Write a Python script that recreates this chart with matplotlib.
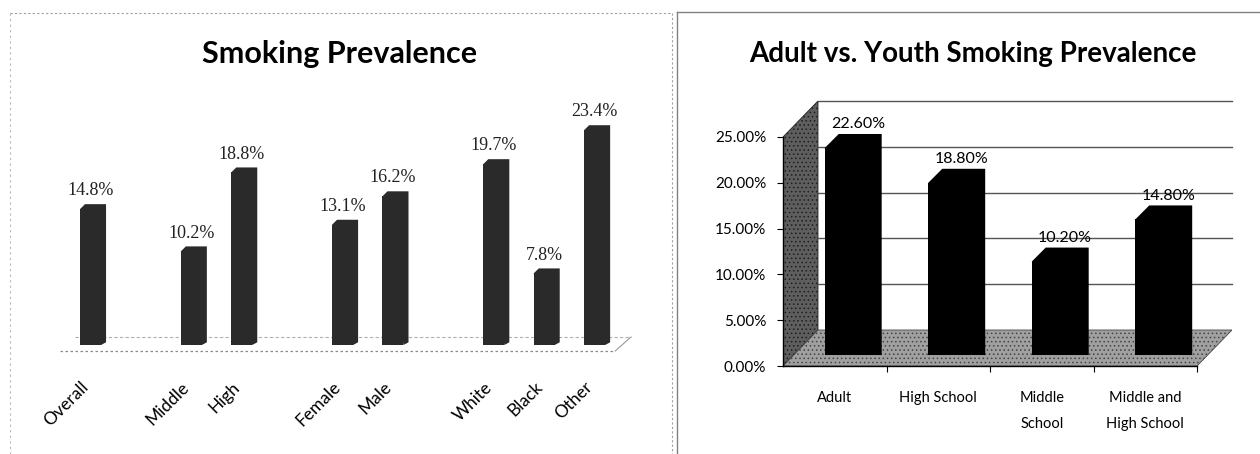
import matplotlib
matplotlib.use("Agg")
import matplotlib.pyplot as plt
from matplotlib.patches import Polygon
from matplotlib.lines import Line2D
from matplotlib.transforms import ScaledTranslation

W, H, DPI = 1260, 454, 100
plt.rcParams["hatch.linewidth"] = 0.6

# ---- Smoking prevalence by subgroup (left chart) ----
group_labels = [["Overall"], ["Middle", "High"], ["Female", "Male"], ["White", "Black", "Other"]]
group_values = [[14.8], [10.2, 18.8], [13.1, 16.2], [19.7, 7.8, 23.4]]

# ---- Adult vs. youth prevalence (right chart) ----
youth_categories = ["Adult", "High School", "Middle\nSchool", "Middle and\nHigh School"]
youth_values = [22.6, 18.8, 10.2, 14.8]
youth_ticks = [0, 5, 10, 15, 20, 25]

SANS = ["Lato", "DejaVu Sans"]
SERIF = ["Liberation Serif", "DejaVu Serif"]

fig = plt.figure(figsize=(W / DPI, H / DPI), dpi=DPI)
fig.patch.set_facecolor("white")


def px_axes(left, top, right, bottom):
    return fig.add_axes([left / W, 1 - bottom / H, (right - left) / W, (bottom - top) / H])


def fig_line(xs, ys, **kw):
    fig.add_artist(Line2D([x / W for x in xs], [1 - y / H for y in ys],
                          transform=fig.transFigure, **kw))


# panel frames
fig_line([10, 672], [13, 13], color="#a0a0a0", lw=0.8, ls=(0, (2, 2)))
fig_line([10, 10], [13, 454], color="#b8b8b8", lw=0.8, ls=(0, (2, 3)))
fig_line([672, 672], [13, 454], color="#a0a0a0", lw=0.8, ls=(0, (2, 2)))
fig_line([677, 1260], [12, 12], color="#808080", lw=1.0)
fig_line([677, 677], [12, 454], color="#808080", lw=1.0)

# titles
fig.text(340 / W, 1 - 63 / H, "Smoking Prevalence", ha="center", va="baseline",
         fontsize=22, fontweight="bold", family=SANS)
fig.text(973 / W, 1 - 62 / H, "Adult vs. Youth Smoking Prevalence", ha="center",
         va="baseline", fontsize=20, fontweight="bold", family=SANS)

# ================= left chart =================
ax1 = px_axes(30, 80, 645, 370)
positions, labels, values = [], [], []
pos = 0
for labs, vals in zip(group_labels, group_values):
    for lab, val in zip(labs, vals):
        positions.append(pos)
        labels.append(lab)
        values.append(val)
        pos += 1
    pos += 1

ax1.set_xlim(-1.25, 10.95)
ax1.set_ylim(-2.72, 28.87)
for s in ax1.spines.values():
    s.set_visible(False)
ax1.set_yticks([])

# floor outline
ax1.plot([-0.65, 10.36], [-0.65, -0.65], color="#8a8a8a", lw=0.9, ls=(0, (2, 2)), zorder=1)
ax1.plot([-0.36, 10.67], [0.87, 0.87], color="#b0b0b0", lw=0.8, ls=(0, (3, 2)), zorder=1)
ax1.plot([10.36, 10.67], [-0.65, 0.87], color="#9a9a9a", lw=0.8, zorder=1)

FW, SDX, SDY = 0.417, 0.10, 0.545
DARK = "#2a2a2a"
fronts = [p - SDX / 2 for p in positions]
ax1.bar(fronts, values, width=FW, color=DARK, lw=0, zorder=3)
for xc, v in zip(fronts, values):
    x0, x1 = xc - FW / 2, xc + FW / 2
    ax1.add_patch(Polygon([(x0, v), (x0 + SDX, v + SDY), (x1 + SDX, v + SDY),
                           (x1 + SDX, 0.3), (x1, 0)], closed=True,
                          fc=DARK, ec="none", zorder=3))
    ax1.annotate(f"{v}%", (xc, v), xytext=(0, 10), textcoords="offset points",
                 ha="center", va="baseline", fontsize=13, family=SERIF, color="#222222")

ax1.set_xticks(positions)
ax1.set_xticklabels(labels, rotation=45, ha="right", va="center",
                    rotation_mode="anchor", fontsize=12.5, family=SANS)
ax1.tick_params(axis="x", length=0, pad=10.5)
shift = ScaledTranslation(-7 / DPI, 0, fig.dpi_scale_trans)
for t in ax1.get_xticklabels():
    t.set_transform(t.get_transform() + shift)

# ================= right chart =================
ax2 = px_axes(783, 101, 1232, 366)
DX, DY = 0.338, 3.93
top = youth_ticks[-1]
n = len(youth_values)
ax2.set_xlim(-0.5, n - 0.5 + DX)
ax2.set_ylim(0, top + DY)
for s in ax2.spines.values():
    s.set_visible(False)

# side wall and floor (stippled fills)
ax2.add_patch(Polygon([(-0.5, 0), (-0.5, top), (-0.5 + DX, top + DY), (-0.5 + DX, DY)],
                      closed=True, fc="#5e5e5e", ec="#1e1e1e", hatch="....", lw=0.6,
                      zorder=1))
ax2.add_patch(Polygon([(-0.5, 0), (n - 0.5, 0), (n - 0.5 + DX, DY), (-0.5 + DX, DY)],
                      closed=True, fc="#a0a0a0", ec="#444444", hatch="....", lw=0.6,
                      zorder=1))
# back-wall gridlines
for t in youth_ticks[1:]:
    ax2.plot([-0.5 + DX, n - 0.5 + DX], [t + DY, t + DY], color="#555555", lw=1.0,
             zorder=1, clip_on=False)
# front axes
ax2.plot([-0.5, -0.5], [0, top], color="black", lw=1.0, zorder=2, clip_on=False)
ax2.plot([-0.5, n - 0.5], [0, 0], color="black", lw=1.0, zorder=2, clip_on=False)

BOFF, BASE, BW, BDX, BDY = 0.111, 1.2, 0.415, 0.135, 1.53
xcs = [i + BOFF for i in range(n)]
ax2.bar(xcs, youth_values, width=BW, bottom=BASE, color="black", lw=0, zorder=3)
for xc, v in zip(xcs, youth_values):
    x0, x1 = xc - BW / 2, xc + BW / 2
    yt = BASE + v
    ax2.add_patch(Polygon([(x0, yt), (x0 + BDX, yt + BDY), (x1 + BDX, yt + BDY),
                           (x1 + BDX, BASE), (x1, BASE)], closed=True,
                          fc="black", ec="none", zorder=3))
    ax2.annotate(f"{v:.2f}%", (xc + BDX * 0.85, yt + BDY), xytext=(0, 4),
                 textcoords="offset points", ha="center", va="baseline",
                 fontsize=11.5, family=SANS, zorder=4)

ax2.set_yticks(youth_ticks)
ax2.set_yticklabels([f"{t:.2f}%" for t in youth_ticks], fontsize=11, family=SANS)
ax2.tick_params(axis="y", direction="out", length=4, width=0.8, pad=8)
ax2.set_xticks(range(n))
ax2.set_xticklabels(youth_categories, fontsize=10.5, family=SANS, linespacing=2.1)
ax2.tick_params(axis="x", which="major", length=0, pad=18)
ax2.set_xticks([i + 0.5 for i in range(n)], minor=True)
ax2.tick_params(axis="x", which="minor", direction="out", length=4, width=0.8)

fig.savefig("out.png", dpi=DPI, facecolor="white")
